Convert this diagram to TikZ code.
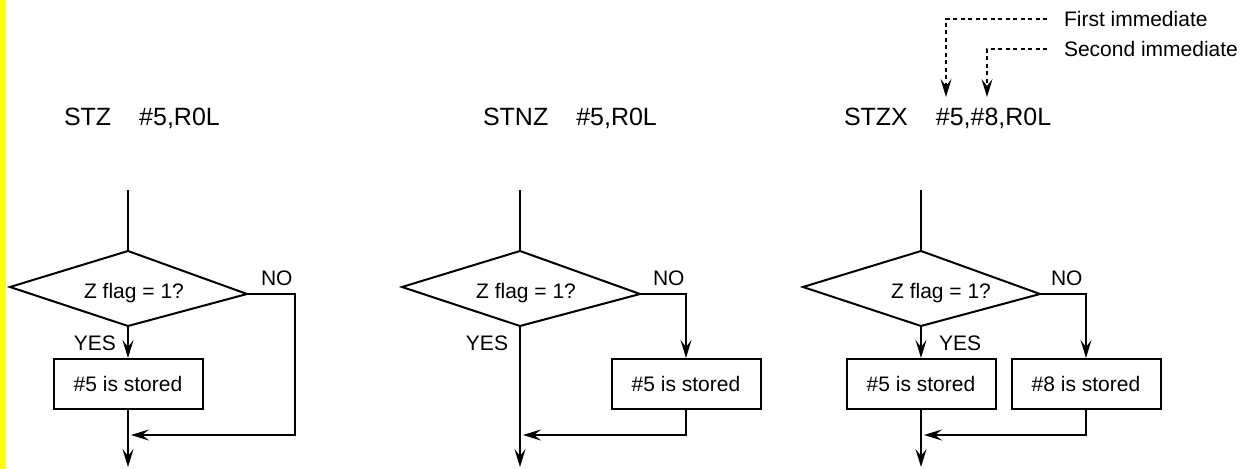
\documentclass[tikz,border=0pt]{standalone}
\usepackage{fontspec}
\setmainfont{Liberation Sans}
\usetikzlibrary{arrows.meta}
\definecolor{markyellow}{RGB}{255,255,0}

\begin{document}
\begin{tikzpicture}[x=0.5pt, y=-0.5pt, line width=1pt,
    >={Stealth[length=9pt, width=5.5pt, inset=3.5pt]},
    title/.style={font=\fontsize{12.5}{15}\selectfont, inner sep=0pt, anchor=base west},
    lbl/.style={font=\fontsize{10.5}{12.6}\selectfont, inner sep=0pt},
    storebox/.style={draw, lbl, minimum width=74.5pt, minimum height=25pt},
    pointer/.style={dash pattern=on 2pt off 1.75pt, line width=0.7pt, ->}]
    \useasboundingbox (0,0) rectangle (1245,469);
    \fill[markyellow] (0,0) rectangle (6,469);

    % Instruction lines
    \node[title] (t1) at (63,126) {STZ\hspace{14pt}\#5,R0L};
    \node[title] (t2) at (482,126) {STNZ\hspace{14pt}\#5,R0L};
    \node[title] (t3) at (843,126) {STZX\hspace{14pt}\#5,\#8,R0L};

    % Immediate pointers
    \node[lbl, anchor=west, inner xsep=8pt] (first) at (1047,19) {First immediate};
    \node[lbl, anchor=west, inner xsep=8pt] (second) at (1047,49) {Second immediate};
    \coordinate (p1) at (946,97);
    \coordinate (p2) at (987,97);
    \draw[pointer] (first.west) -| (p1);
    \draw[pointer] (second.west) -| (p2);

    % STZ
    \coordinate (s1) at (128,190);
    \coordinate (d1t) at (128,251);
    \coordinate (d1l) at (10,287);
    \coordinate (d1r) at (247,294);
    \coordinate (d1b) at (128,326);
    \draw[line width=0.7pt] (s1) -- (d1t);
    \draw (d1t) -- (d1r) -- (d1b) -- (d1l) -- cycle;
    \node[lbl, anchor=base] (q1) at (134,299) {Z flag = 1?};
    \node[storebox] (b1) at (128,384) {\#5 is stored};
    \node[lbl, anchor=base east] (yes1) at (117,351) {YES};
    \node[lbl, anchor=base west] (no1) at (260,286) {NO};
    \coordinate (k1) at (295,435);
    \coordinate (m1) at (131,435);
    \coordinate (e1) at (128,467);
    \draw[->] (d1b) -- (b1.north);
    \draw[->] (b1.south) -- (e1);
    \draw[->] (d1r) -| (k1) -- (m1);

    % STNZ
    \coordinate (s2) at (520,190);
    \coordinate (d2t) at (520,251);
    \coordinate (d2l) at (402,287);
    \coordinate (d2r) at (640,294);
    \coordinate (d2b) at (520,326);
    \draw[line width=0.7pt] (s2) -- (d2t);
    \draw (d2t) -- (d2r) -- (d2b) -- (d2l) -- cycle;
    \node[lbl, anchor=base] (q2) at (526,299) {Z flag = 1?};
    \node[storebox] (b2) at (686,384) {\#5 is stored};
    \node[lbl, anchor=base east] (yes2) at (509,351) {YES};
    \node[lbl, anchor=base west] (no2) at (652,286) {NO};
    \coordinate (m2) at (523,435);
    \coordinate (e2) at (520,467);
    \draw[->] (d2b) -- (e2);
    \draw[->] (d2r) -| (b2.north);
    \draw[->] (b2.south) |- (m2);

    % STZX
    \coordinate (s3) at (921,190);
    \coordinate (d3t) at (921,251);
    \coordinate (d3l) at (803,287);
    \coordinate (d3r) at (1040,294);
    \coordinate (d3b) at (921,326);
    \draw[line width=0.7pt] (s3) -- (d3t);
    \draw (d3t) -- (d3r) -- (d3b) -- (d3l) -- cycle;
    \node[lbl, anchor=base] (q3) at (941,299) {Z flag = 1?};
    \node[storebox] (b3) at (921,384) {\#5 is stored};
    \node[storebox] (b4) at (1086,384) {\#8 is stored};
    \node[lbl, anchor=base west] (yes3) at (938,351) {YES};
    \node[lbl, anchor=base west] (no3) at (1050,286) {NO};
    \coordinate (m3) at (924,435);
    \coordinate (e3) at (921,467);
    \draw[->] (d3b) -- (b3.north);
    \draw[->] (b3.south) -- (e3);
    \draw[->] (d3r) -| (b4.north);
    \draw[->] (b4.south) |- (m3);
\end{tikzpicture}
\end{document}
